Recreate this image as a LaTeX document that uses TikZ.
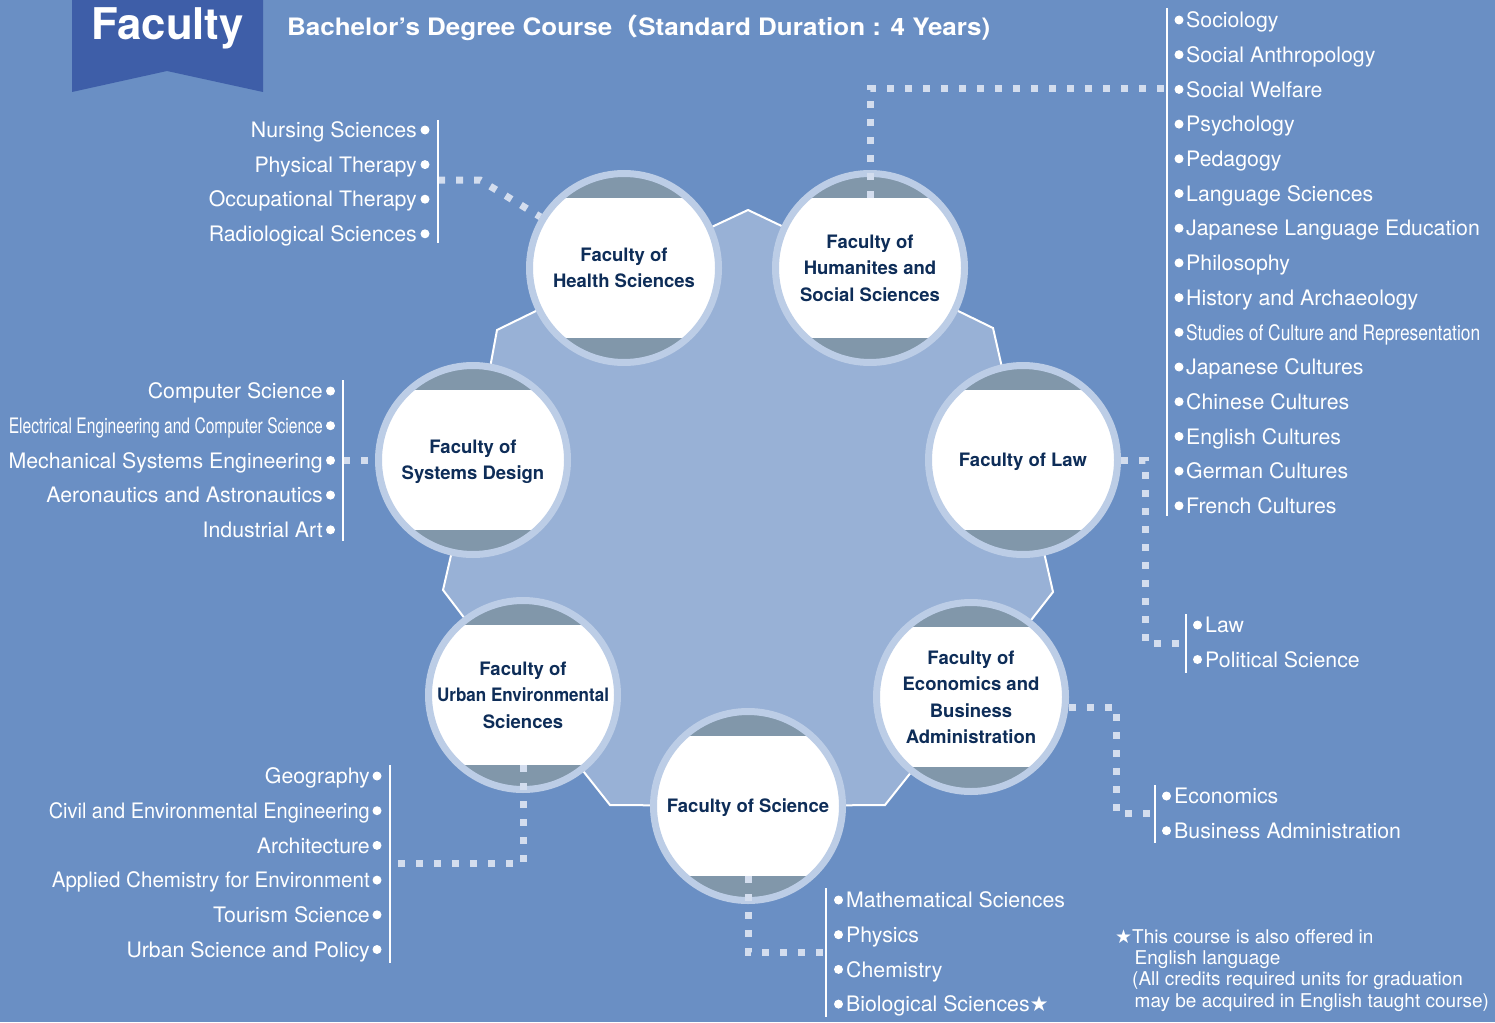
\documentclass[tikz,border=0pt]{standalone}
\usepackage{graphicx}
\usepackage{fontspec}
\setmainfont{TeX Gyre Heros}
\newfontfamily\symfont{DejaVu Sans}
\newfontfamily\cjkfont{Noto Sans CJK JP}
\usetikzlibrary{calc}

\definecolor{bgblue}{HTML}{6A8FC4}
\definecolor{hubblue}{HTML}{98B1D6}
\definecolor{ringblue}{HTML}{BCCDE6}
\definecolor{capgray}{HTML}{8197AA}
\definecolor{bannerblue}{HTML}{3E5EA8}
\definecolor{navy}{HTML}{0E2D58}
\definecolor{dotwhite}{HTML}{D3DDEE}

\newcommand{\squeeze}[2]{\resizebox{#1}{\height}{#2}}

\tikzset{
  faculty/.style={circle, inner sep=0pt, minimum size=189pt, fill=capgray,
    draw=ringblue, line width=7pt, text=navy, align=center, text depth=0pt,
    font=\bfseries\fontsize{18.5}{26.5}\selectfont,
    path picture={\fill[white] ([yshift=-70pt]path picture bounding box.west)
      rectangle ([yshift=70pt]path picture bounding box.east);}},
  item/.style={text=white, inner sep=0pt, font=\fontsize{21.3}{25}\selectfont},
  note/.style={text=white, inner sep=0pt, align=left, font=\fontsize{19}{21.3}\selectfont},
  dotlink/.style={draw=dotwhite, line width=7pt, dash pattern=on 7pt off 11pt},
  listbar/.style={draw=white, line width=1.5pt}
}

\begin{document}
\begin{tikzpicture}[x=1pt,y=-1pt]
\fill[bgblue] (0,0) rectangle (1495,1022);
\useasboundingbox (0,0) rectangle (1495,1022);

\fill[bannerblue] (72,0) -- (263,0) -- (263,92) -- (167,71) -- (72,92) -- cycle;
\node[text=white, inner sep=0pt, anchor=base, font=\bfseries\fontsize{43.7}{44}\selectfont] (title) at (167.5,39.5) {Faculty};
\node[text=white, inner sep=0pt, anchor=base west, font=\bfseries\fontsize{24}{26}\selectfont] (subtitle) at (287,36)
  {\squeeze{703pt}{Bachelor’s Degree Course{\cjkfont （}Standard Duration : 4 Years)}};

\coordinate (c-hlth) at (624,268);
\coordinate (c-hum) at (870,268);
\coordinate (c-law) at (1023,460);
\coordinate (c-econ) at (971,697);
\coordinate (c-sci) at (748,806);
\coordinate (c-urb) at (523,695);
\coordinate (c-sys) at (473,460);

\draw[fill=hubblue, draw=white, line width=2pt, line join=miter]
  (c-hlth) -- (748,210) -- (c-hum) -- (993,328) -- (c-law) -- (1053,592) -- (c-econ)
  -- (885,805) -- (c-sci) -- (610,805) -- (c-urb) -- (443,590) -- (c-sys) -- (497,330) -- cycle;

\node[faculty] (hlth) at (c-hlth) {Faculty of\\Health Sciences};
\node[faculty] (hum) at (c-hum) {Faculty of\\Humanites and\\Social Sciences};
\node[faculty] (law) at (c-law) {Faculty of Law};
\node[faculty] (econ) at (c-econ) {Faculty of\\Economics and\\Business\\Administration};
\node[faculty] (sci) at (c-sci) {Faculty of Science};
\node[faculty] (urb) at (c-urb) {Faculty of\\\squeeze{172pt}{Urban Environmental}\\Sciences};
\node[faculty] (sys) at (c-sys) {Faculty of\\Systems Design};

\coordinate (hlth-j) at (438,180);
\coordinate (sys-j) at (343,460);
\coordinate (hum-j) at (1167,89);
\coordinate (law-j) at (1186,643);
\coordinate (econ-j) at (1155,813);
\coordinate (sci-j) at (826,952);
\coordinate (urb-j) at (390,863);

\draw[dotlink] (hlth-j) -- ++(42,0) -- (hlth);
\draw[dotlink] (sys-j) -- (sys);
\draw[dotlink] ($(hum.center)+(0,-70)$) |- (hum-j);
\draw[dotlink] (law.east) -- ++(24,0) |- (law-j);
\draw[dotlink] ($(econ.east)+(0,10)$) -- ++(47,0) |- (econ-j);
\draw[dotlink] ($(sci.center)+(0,70)$) |- (sci-j);
\draw[dotlink] ($(urb.center)+(0,70)$) |- (urb-j);

\draw[listbar] (438,120) -- (438,243);
\draw[listbar] (343,380) -- (343,541);
\draw[listbar] (1167,8) -- (1167,516);
\draw[listbar] (1186,614) -- (1186,673);
\draw[listbar] (1155,785) -- (1155,843);
\draw[listbar] (826,888) -- (826,1017);
\draw[listbar] (390,765) -- (390,963);

\foreach \t [count=\i] in {Nursing Sciences,Physical Therapy,Occupational Therapy,Radiological Sciences}{
  \fill[white] (425,{130+34.6*(\i-1)}) circle (4.5pt);
  \node[item, anchor=base east] (hlth-\i) at (417,{137.7+34.6*(\i-1)}) {\t};
}
\foreach \t [count=\i] in {Computer Science,{\squeeze{314pt}{Electrical Engineering and Computer Science}},Mechanical Systems Engineering,Aeronautics and Astronautics,Industrial Art}{
  \fill[white] (330.5,{391+34.7*(\i-1)}) circle (4.5pt);
  \node[item, anchor=base east] (sys-\i) at (323,{398.7+34.7*(\i-1)}) {\t};
}
\foreach \t [count=\i] in {Sociology,Social Anthropology,Social Welfare,Psychology,Pedagogy,Language Sciences,Japanese Language Education,Philosophy,History and Archaeology,{\squeeze{294pt}{Studies of Culture and Representation}},Japanese Cultures,Chinese Cultures,English Cultures,German Cultures,French Cultures}{
  \fill[white] (1179,{20+34.7*(\i-1)}) circle (4.5pt);
  \node[item, anchor=base west] (hum-\i) at (1186,{27.7+34.7*(\i-1)}) {\t};
}
\foreach \t [count=\i] in {Law,Political Science}{
  \fill[white] (1197.5,{625+34.5*(\i-1)}) circle (4.5pt);
  \node[item, anchor=base west] (law-\i) at (1205,{632.7+34.5*(\i-1)}) {\t};
}
\foreach \t [count=\i] in {Economics,Business Administration}{
  \fill[white] (1166.5,{796+34.7*(\i-1)}) circle (4.5pt);
  \node[item, anchor=base west] (econ-\i) at (1174,{803.7+34.7*(\i-1)}) {\t};
}
\foreach \t [count=\i] in {Mathematical Sciences,Physics,Chemistry,{Biological Sciences{\symfont ★}}}{
  \fill[white] (838.5,{900+34.7*(\i-1)}) circle (4.5pt);
  \node[item, anchor=base west] (sci-\i) at (846,{907.7+34.7*(\i-1)}) {\t};
}
\foreach \t [count=\i] in {Geography,{\squeeze{321pt}{Civil and Environmental Engineering}},Architecture,{\squeeze{318pt}{Applied Chemistry for Environment}},Tourism Science,Urban Science and Policy}{
  \fill[white] (377,{776+34.7*(\i-1)}) circle (4.5pt);
  \node[item, anchor=base east] (urb-\i) at (370,{783.7+34.7*(\i-1)}) {\t};
}

\node[note, anchor=north west] (note) at (1115,929)
  {\makebox[17pt][l]{\symfont ★}This course is also offered in\\
   \hspace*{19.5pt}English language\\
   \hspace*{17pt}(All credits required units for graduation\\
   \hspace*{19.5pt}may be acquired in English taught course)};
\end{tikzpicture}
\end{document}
